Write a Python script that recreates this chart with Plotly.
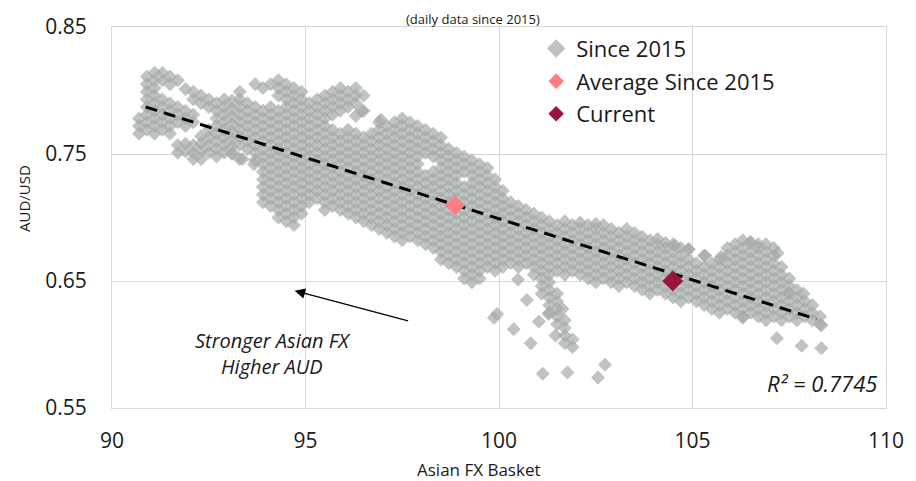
import plotly.graph_objects as go

# Daily observations since 2015: Asian FX basket (x) against AUD/USD (y),
# grouped by basket level; each entry is (basket level, [AUD/USD readings]).
since_cols = [
    (90.7, [0.778, 0.772, 0.766]),
    (90.9, [0.811, 0.805, 0.799, 0.793, 0.787, 0.781, 0.775, 0.769]),
    (91.1, [0.814, 0.808, 0.802, 0.796, 0.790, 0.784, 0.778, 0.772, 0.766]),
    (91.3, [0.814, 0.808, 0.793, 0.787, 0.781, 0.775, 0.769]),
    (91.5, [0.811, 0.805, 0.790, 0.784, 0.778, 0.772, 0.766]),
    (91.7, [0.808, 0.787, 0.781, 0.775, 0.757, 0.751]),
    (91.9, [0.801, 0.784, 0.778, 0.772, 0.758, 0.752]),
    (92.1, [0.799, 0.793, 0.781, 0.775, 0.757, 0.751, 0.746]),
    (92.3, [0.796, 0.790, 0.764, 0.758, 0.752, 0.746]),
    (92.5, [0.793, 0.787, 0.769, 0.763, 0.757, 0.751]),
    (92.7, [0.790, 0.784, 0.778, 0.772, 0.766, 0.760, 0.754, 0.748]),
    (92.9, [0.793, 0.787, 0.781, 0.775, 0.769, 0.763, 0.757, 0.751]),
    (93.1, [0.792, 0.786, 0.780, 0.774, 0.768, 0.762, 0.756, 0.750]),
    (93.3, [0.799, 0.793, 0.787, 0.781, 0.775, 0.769, 0.763, 0.757, 0.746]),
    (93.5, [0.790, 0.784, 0.778, 0.772, 0.766, 0.760, 0.754]),
    (93.7, [0.805, 0.787, 0.781, 0.775, 0.769, 0.763, 0.757, 0.751, 0.745]),
    (93.9, [0.802, 0.784, 0.778, 0.772, 0.766, 0.760, 0.754, 0.748, 0.742, 0.736,
            0.730, 0.724, 0.718, 0.712]),
    (94.1, [0.805, 0.787, 0.781, 0.775, 0.769, 0.763, 0.757, 0.751, 0.745, 0.739,
            0.733, 0.727, 0.721, 0.715, 0.709]),
    (94.3, [0.808, 0.802, 0.796, 0.784, 0.778, 0.772, 0.766, 0.760, 0.754, 0.748,
            0.742, 0.736, 0.730, 0.724, 0.718, 0.712, 0.706, 0.700]),
    (94.5, [0.805, 0.799, 0.793, 0.787, 0.781, 0.775, 0.769, 0.763, 0.757, 0.751,
            0.745, 0.739, 0.733, 0.727, 0.721, 0.715, 0.709, 0.703, 0.697]),
    (94.7, [0.802, 0.796, 0.790, 0.784, 0.778, 0.772, 0.766, 0.760, 0.754, 0.748,
            0.742, 0.736, 0.730, 0.724, 0.718, 0.712, 0.706, 0.700, 0.694]),
    (94.9, [0.799, 0.793, 0.787, 0.781, 0.775, 0.769, 0.763, 0.757, 0.751, 0.745,
            0.739, 0.733, 0.727, 0.721, 0.715, 0.709, 0.703]),
    (95.1, [0.790, 0.784, 0.778, 0.772, 0.766, 0.760, 0.754, 0.748, 0.742, 0.736,
            0.730, 0.724, 0.718, 0.712]),
    (95.3, [0.793, 0.787, 0.781, 0.775, 0.769, 0.763, 0.757, 0.751, 0.745, 0.739,
            0.733, 0.727, 0.721, 0.715]),
    (95.5, [0.796, 0.790, 0.784, 0.778, 0.772, 0.766, 0.760, 0.754, 0.748, 0.742,
            0.736, 0.730, 0.724, 0.718, 0.712, 0.706]),
    (95.7, [0.799, 0.793, 0.787, 0.781, 0.769, 0.763, 0.757, 0.751, 0.745, 0.739,
            0.733, 0.727, 0.721, 0.715, 0.709]),
    (95.9, [0.802, 0.796, 0.790, 0.784, 0.766, 0.760, 0.754, 0.748, 0.742, 0.736,
            0.730, 0.724, 0.718, 0.712, 0.706]),
    (96.1, [0.799, 0.793, 0.787, 0.769, 0.763, 0.757, 0.751, 0.745, 0.739, 0.733,
            0.727, 0.721, 0.715, 0.709, 0.703]),
    (96.3, [0.802, 0.796, 0.790, 0.780, 0.766, 0.760, 0.754, 0.748, 0.742, 0.736,
            0.730, 0.724, 0.718, 0.712, 0.706, 0.700]),
    (96.5, [0.796, 0.784, 0.763, 0.757, 0.751, 0.745, 0.739, 0.733, 0.727, 0.721,
            0.715, 0.709, 0.703, 0.697]),
    (96.7, [0.766, 0.760, 0.754, 0.748, 0.742, 0.736, 0.730, 0.724, 0.718, 0.712,
            0.706, 0.700, 0.694]),
    (96.9, [0.775, 0.769, 0.763, 0.757, 0.751, 0.745, 0.739, 0.733, 0.727, 0.721,
            0.715, 0.709, 0.703, 0.697, 0.691]),
    (97.1, [0.772, 0.766, 0.760, 0.754, 0.748, 0.742, 0.736, 0.730, 0.724, 0.718,
            0.712, 0.706, 0.700, 0.694, 0.688]),
    (97.3, [0.775, 0.769, 0.763, 0.757, 0.751, 0.745, 0.739, 0.733, 0.727, 0.721,
            0.715, 0.709, 0.703, 0.697, 0.691, 0.685]),
    (97.5, [0.778, 0.772, 0.766, 0.760, 0.754, 0.748, 0.742, 0.736, 0.730, 0.724,
            0.718, 0.712, 0.706, 0.700, 0.694, 0.688, 0.682]),
    (97.7, [0.775, 0.769, 0.763, 0.757, 0.751, 0.745, 0.739, 0.733, 0.727, 0.721,
            0.715, 0.709, 0.703, 0.697, 0.691, 0.685]),
    (97.9, [0.772, 0.766, 0.760, 0.754, 0.748, 0.742, 0.736, 0.730, 0.724, 0.718,
            0.712, 0.706, 0.700, 0.694, 0.688, 0.682]),
    (98.1, [0.769, 0.763, 0.757, 0.751, 0.733, 0.727, 0.721, 0.715, 0.709, 0.703,
            0.697, 0.691, 0.685, 0.679]),
    (98.3, [0.766, 0.760, 0.754, 0.748, 0.736, 0.730, 0.724, 0.718, 0.712, 0.706,
            0.700, 0.694, 0.688, 0.682, 0.676]),
    (98.5, [0.763, 0.757, 0.751, 0.745, 0.739, 0.733, 0.727, 0.721, 0.715, 0.709,
            0.703, 0.697, 0.691, 0.685, 0.679, 0.673, 0.667]),
    (98.7, [0.754, 0.748, 0.742, 0.736, 0.730, 0.724, 0.718, 0.712, 0.706, 0.700,
            0.694, 0.688, 0.682, 0.676, 0.670, 0.664]),
    (98.9, [0.751, 0.745, 0.739, 0.733, 0.727, 0.721, 0.715, 0.709, 0.703, 0.697,
            0.691, 0.685, 0.679, 0.673, 0.667, 0.661]),
    (99.1, [0.748, 0.742, 0.736, 0.724, 0.718, 0.712, 0.706, 0.700, 0.694, 0.688,
            0.682, 0.676, 0.670, 0.664, 0.658, 0.652]),
    (99.3, [0.745, 0.739, 0.733, 0.727, 0.721, 0.715, 0.709, 0.703, 0.697, 0.691,
            0.685, 0.679, 0.673, 0.667, 0.661, 0.655, 0.649]),
    (99.5, [0.742, 0.736, 0.730, 0.724, 0.718, 0.712, 0.706, 0.700, 0.694, 0.688,
            0.682, 0.676, 0.670, 0.664, 0.658, 0.652]),
    (99.7, [0.739, 0.733, 0.727, 0.721, 0.715, 0.709, 0.703, 0.697, 0.691, 0.685,
            0.679, 0.673, 0.667, 0.661]),
    (99.9, [0.730, 0.724, 0.718, 0.712, 0.706, 0.700, 0.694, 0.688, 0.682, 0.676,
            0.670, 0.664, 0.658]),
    (100.1, [0.721, 0.715, 0.709, 0.703, 0.697, 0.691, 0.685, 0.679, 0.673, 0.667, 0.661]),
    (100.3, [0.712, 0.706, 0.700, 0.694, 0.688, 0.682, 0.676, 0.670, 0.664]),
    (100.5, [0.709, 0.703, 0.697, 0.691, 0.685, 0.679, 0.673, 0.667, 0.661]),
    (100.7, [0.706, 0.700, 0.694, 0.688, 0.682, 0.676, 0.670, 0.664]),
    (100.9, [0.703, 0.697, 0.691, 0.685, 0.679, 0.673, 0.667, 0.661, 0.655]),
    (101.1, [0.700, 0.694, 0.688, 0.682, 0.676, 0.670, 0.664, 0.658, 0.652, 0.646, 0.640]),
    (101.3, [0.697, 0.691, 0.685, 0.679, 0.673, 0.667, 0.661, 0.655, 0.649, 0.643,
             0.637, 0.631, 0.625]),
    (101.5, [0.694, 0.688, 0.682, 0.676, 0.670, 0.664, 0.658, 0.640, 0.634, 0.628,
             0.622, 0.616]),
    (101.7, [0.697, 0.691, 0.685, 0.679, 0.673, 0.667, 0.661, 0.655, 0.619, 0.613,
             0.607, 0.601]),
    (101.9, [0.694, 0.688, 0.682, 0.676, 0.670, 0.664, 0.658, 0.604, 0.598]),
    (102.1, [0.696, 0.691, 0.685, 0.679, 0.673, 0.667, 0.661, 0.655]),
    (102.3, [0.694, 0.688, 0.682, 0.676, 0.670, 0.664, 0.658, 0.652]),
    (102.5, [0.695, 0.691, 0.685, 0.679, 0.673, 0.667, 0.661, 0.655, 0.649]),
    (102.7, [0.694, 0.688, 0.682, 0.676, 0.670, 0.664, 0.658, 0.652]),
    (102.9, [0.691, 0.685, 0.679, 0.673, 0.667, 0.661, 0.655, 0.649]),
    (103.1, [0.688, 0.682, 0.676, 0.670, 0.664, 0.658, 0.652, 0.646]),
    (103.3, [0.691, 0.685, 0.679, 0.673, 0.667, 0.661, 0.655, 0.649]),
    (103.5, [0.688, 0.682, 0.676, 0.670, 0.664, 0.658, 0.652, 0.646]),
    (103.7, [0.685, 0.679, 0.673, 0.667, 0.661, 0.655, 0.649, 0.643]),
    (103.9, [0.682, 0.676, 0.670, 0.664, 0.658, 0.652, 0.646, 0.640]),
    (104.1, [0.683, 0.679, 0.673, 0.667, 0.661, 0.655, 0.649, 0.643]),
    (104.3, [0.680, 0.676, 0.670, 0.664, 0.658, 0.652, 0.646, 0.640]),
    (104.5, [0.679, 0.673, 0.667, 0.661, 0.655, 0.649, 0.643, 0.637]),
    (104.7, [0.676, 0.670, 0.664, 0.658, 0.652, 0.646, 0.640, 0.634]),
    (104.9, [0.675, 0.667, 0.661, 0.655, 0.649, 0.643, 0.637]),
    (105.1, [0.664, 0.658, 0.652, 0.646, 0.640, 0.634]),
    (105.3, [0.670, 0.661, 0.655, 0.649, 0.643, 0.637, 0.631]),
    (105.5, [0.664, 0.658, 0.652, 0.646, 0.640, 0.634, 0.628]),
    (105.7, [0.667, 0.661, 0.655, 0.649, 0.643, 0.637, 0.631, 0.625]),
    (105.9, [0.676, 0.670, 0.664, 0.658, 0.652, 0.646, 0.640, 0.634, 0.628]),
    (106.1, [0.679, 0.673, 0.667, 0.661, 0.655, 0.649, 0.643, 0.637, 0.631, 0.625]),
    (106.3, [0.682, 0.676, 0.670, 0.664, 0.658, 0.652, 0.646, 0.640, 0.634, 0.628, 0.622]),
    (106.5, [0.681, 0.673, 0.667, 0.661, 0.655, 0.649, 0.643, 0.637, 0.631, 0.625]),
    (106.7, [0.679, 0.676, 0.670, 0.664, 0.658, 0.652, 0.646, 0.640, 0.634, 0.628, 0.622]),
    (106.9, [0.679, 0.673, 0.667, 0.661, 0.655, 0.649, 0.643, 0.637, 0.631, 0.625, 0.619]),
    (107.1, [0.676, 0.670, 0.664, 0.658, 0.652, 0.646, 0.640, 0.634, 0.628, 0.622]),
    (107.3, [0.661, 0.655, 0.649, 0.643, 0.637, 0.631, 0.625, 0.619]),
    (107.5, [0.652, 0.646, 0.640, 0.634, 0.628, 0.622]),
    (107.7, [0.643, 0.637, 0.631, 0.625, 0.619]),
    (107.9, [0.634, 0.628, 0.622]),
    (108.1, [0.631, 0.625, 0.619]),
    (108.3, [0.622, 0.616]),
]

# Scattered days away from the main band
since_extra_x = [93.11, 93.37, 93.67, 96.45, 96.95, 99.87, 99.95, 100.38, 100.72,
                 100.49, 101.03, 100.82, 101.13, 101.77, 102.56, 102.74, 101.28,
                 101.64, 101.46, 107.18, 107.82, 108.33, 108.33, 106.30, 104.90,
                 104.54, 106.49, 107.20, 105.33, 105.74, 107.49, 107.87]
since_extra_y = [0.751, 0.746, 0.742, 0.784, 0.777, 0.621, 0.624, 0.612, 0.635,
                 0.651, 0.618, 0.601, 0.577, 0.578, 0.574, 0.584, 0.624,
                 0.628, 0.607, 0.605, 0.599, 0.597, 0.615, 0.621, 0.675,
                 0.678, 0.680, 0.672, 0.670, 0.669, 0.641, 0.640]

# Average since 2015 and latest observation
avg_x, avg_y = [98.87], [0.7095]
cur_x, cur_y = [104.49], [0.650]

# Linear trend line end points
trend_x = [90.87, 108.20]
trend_y = [0.787, 0.620]
r_squared = 0.7745

x_ticks = [90, 95, 100, 105, 110]
y_ticks = [0.55, 0.65, 0.75, 0.85]

FONT = "Open Sans"
TEXT = "#1a1a1a"
GRID = "#d9d9d9"

scatter_x, scatter_y = [], []
for bx, ys in since_cols:
    for yv in ys:
        scatter_x.append(bx)
        scatter_y.append(yv)
scatter_x += since_extra_x
scatter_y += since_extra_y

fig = go.Figure()
fig.add_trace(go.Scatter(
    x=scatter_x, y=scatter_y, mode="markers", name="Since 2015",
    legendgroup="a",
    marker=dict(symbol="diamond", size=10, color="#a5aba7", opacity=0.7,
                line=dict(color="#a5aba7", width=1)),
))
fig.add_trace(go.Scatter(
    x=trend_x, y=trend_y, mode="lines", showlegend=False, hoverinfo="skip",
    line=dict(color="black", width=3, dash="12px,7px"),
))
fig.add_trace(go.Scatter(
    x=avg_x, y=avg_y, mode="markers", name="Average Since 2015",
    legendgroup="b",
    marker=dict(symbol="diamond", size=15, color="#ff7c80"),
))
fig.add_trace(go.Scatter(
    x=cur_x, y=cur_y, mode="markers", name="Current",
    legendgroup="c",
    marker=dict(symbol="diamond", size=16, color="#9b153b"),
))

axis_common = dict(
    showgrid=True, gridcolor=GRID, gridwidth=1,
    showline=True, linecolor=GRID, linewidth=1, mirror=True,
    zeroline=False, ticks="", tickfont=dict(family=FONT, size=21, color=TEXT),
)
fig.update_xaxes(range=[90, 110], tickvals=x_ticks, ticklabelstandoff=14,
                 **axis_common)
fig.update_yaxes(range=[0.55, 0.85], tickvals=y_ticks,
                 ticktext=[f"{v:.2f}" for v in y_ticks], ticklabelstandoff=20,
                 **axis_common)

annotations = [
    dict(text="(daily data since 2015)", xref="paper", yref="paper",
         x=0.467, y=1.051, xanchor="center", yanchor="top", showarrow=False,
         font=dict(family=FONT, size=13, color=TEXT)),
    dict(text="Asian FX Basket", xref="paper", yref="paper", x=0.474, y=-0.125,
         xanchor="center", yanchor="top", showarrow=False,
         font=dict(family=FONT, size=17, color=TEXT)),
    dict(text="AUD/USD", xref="paper", yref="paper", x=-0.113, y=0.55,
         xanchor="center", yanchor="middle", textangle=-90, showarrow=False,
         font=dict(family=FONT, size=15, color=TEXT)),
    dict(x=94.72, y=0.6423, ax=97.69, ay=0.6183, xref="x", yref="y",
         axref="x", ayref="y", text="", showarrow=True, arrowhead=2,
         arrowsize=1.6, arrowwidth=1.3, arrowcolor="black"),
    dict(text="<i>Stronger Asian FX<br>Higher AUD</i>", x=94.15, y=0.593,
         xref="x", yref="y", showarrow=False, align="center",
         font=dict(family=FONT, size=20, color=TEXT)),
    dict(text=f"<i>R² = {r_squared}</i>", x=109.82, y=0.5697, xref="x", yref="y",
         xanchor="right", showarrow=False,
         font=dict(family=FONT, size=22, color=TEXT)),
]

fig.update_layout(
    width=916, height=481,
    margin=dict(l=112, r=24, t=20, b=73),
    paper_bgcolor="white", plot_bgcolor="white",
    showlegend=True,
    legend=dict(x=0.548, y=0.998, xanchor="left", yanchor="top",
                bgcolor="rgba(0,0,0,0)", tracegroupgap=1, itemwidth=30,
                itemsizing="constant",
                font=dict(family=FONT, size=22, color=TEXT)),
    annotations=annotations,
)

fig.write_html("out.html")
